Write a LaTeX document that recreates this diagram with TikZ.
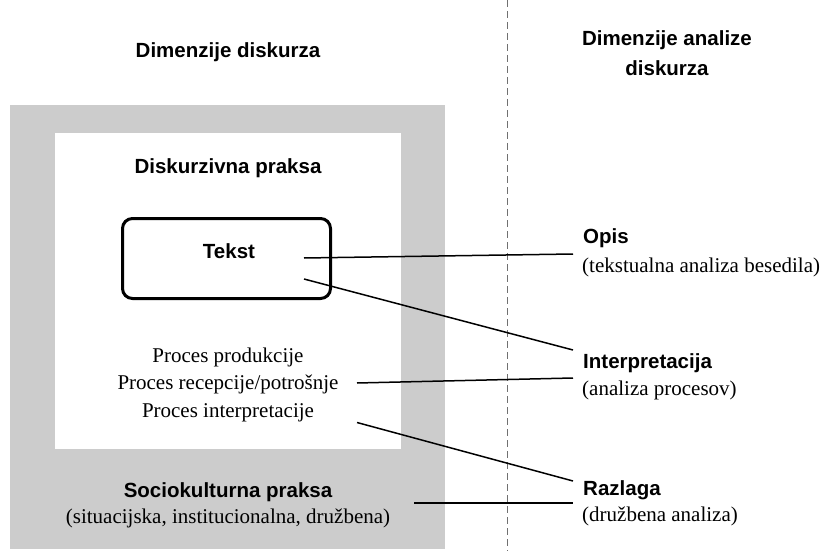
\documentclass[tikz,border=0pt]{standalone}
\usepackage{fontspec}
\setmainfont{Liberation Serif}
\setsansfont{Liberation Sans}
\begin{document}
\begin{tikzpicture}[x=1pt,y=-1pt,
  head/.style={font=\sffamily\bfseries\fontsize{20.5}{30}\selectfont, inner sep=0pt, align=center},
  lbl/.style={font=\sffamily\bfseries\fontsize{20.5}{24}\selectfont, inner sep=0pt},
  desc/.style={font=\fontsize{21}{27.5}\selectfont, inner sep=0pt},
  conn/.style={line width=1.5pt, black},
  panel/.style={inner sep=0pt, draw=none}
]
\useasboundingbox (0,0) rectangle (823,551);
\definecolor{boxgray}{HTML}{CCCCCC}
\definecolor{dashgray}{HTML}{707070}
% boxes
\node[panel, fill=boxgray, minimum width=435pt, minimum height=444pt] (outer) at (227.5,327) {};
\node[panel, fill=white, minimum width=346pt, minimum height=316pt] (inner) at (228,291) {};
\node[panel, draw=black, line width=3pt, rounded corners=10pt, minimum width=208pt, minimum height=80pt] (tbox) at (226.5,258.5) {};
% dashed divider
\coordinate (dtop) at (507,0);
\coordinate (dbot) at (507,551);
\draw[dashgray, line width=1pt, dash pattern=on 7pt off 4pt] (dtop) -- (dbot);
% headings
\node[head] (hl) at (228,52) {Dimenzije diskurza};
\node[head] (hr) at (667,53) {Dimenzije analize\\diskurza};
% left texts
\node[head] (dp) at (228,168) {Diskurzivna praksa};
\node[head] (tekst) at (229,251) {Tekst};
\node[desc, align=center] (proc) at (228,384.5) {Proces produkcije\\Proces recepcije/potrošnje\\Proces interpretacije};
\node[lbl] (sk) at (228,492) {Sociokulturna praksa};
\node[desc] (skd) at (228,518) {(situacijska, institucionalna, družbena)};
% right labels
\node[lbl, anchor=west] (opis) at (583,238) {Opis};
\node[desc, anchor=west] (opisd) at (582,267) {(tekstualna analiza besedila)};
\node[lbl, anchor=west] (interp) at (583,363) {Interpretacija};
\node[desc, anchor=west] (interpd) at (582,390) {(analiza procesov)};
\node[lbl, anchor=west] (razl) at (583,490) {Razlaga};
\node[desc, anchor=west] (razld) at (582,516) {(družbena analiza)};
% connector end points
\coordinate (a1) at (304,258);
\coordinate (b1) at (573,254);
\coordinate (a2) at (304,279);
\coordinate (b2) at (573,350);
\coordinate (a3) at (357,383);
\coordinate (b3) at (573,378);
\coordinate (a4) at (357,422.5);
\coordinate (b4) at (573,481);
\coordinate (a5) at (414,503);
\coordinate (b5) at (573,503);
\draw[conn] (a1) -- (b1);
\draw[conn] (a2) -- (b2);
\draw[conn] (a3) -- (b3);
\draw[conn] (a4) -- (b4);
\draw[conn] (a5) -- (b5);
\end{tikzpicture}
\end{document}
